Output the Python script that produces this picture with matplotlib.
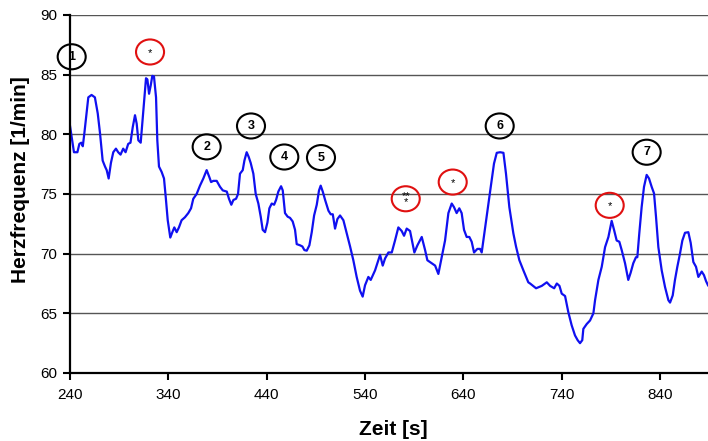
import matplotlib
matplotlib.use("Agg")
import matplotlib.pyplot as plt
from matplotlib.patches import Ellipse

plt.rcParams['font.family'] = ['Liberation Sans', 'DejaVu Sans']

# Heart rate over time
time_s = [240, 244, 247.5, 249.5, 251.5, 253, 254.6, 258.6, 261.9, 265.3,
          268.2, 270.5, 273.2, 275.6, 277.3, 279.3, 281.6, 284.0, 286.7, 289.0,
          291.4, 294.1, 296.5, 299.2, 301.5, 303.8, 306.1, 307.8, 309.5, 311.9,
          314.6, 317.3, 318.7, 320.4, 322.1, 323.7, 325.4, 327.5, 328.8, 330.5,
          333.2, 335.6, 337.3, 339.4, 342.0, 344.1, 346.1, 348.5, 350.8, 353.5,
          356.9, 360.3, 363.1, 365.4, 368.8, 372.2, 375.6, 379.0, 381.8, 383.5,
          385.8, 389.2, 392.6, 395.4, 399.5, 401.7, 404.1, 406.2, 408.9, 410.9,
          412.9, 415.7, 417.4, 419.7, 421.8, 423.8, 426.5, 428.9, 431.6, 434.0,
          436.0, 438.4, 440.8, 442.8, 445.2, 447.6, 449.6, 451.9, 454.7, 456.4,
          458.7, 461.4, 463.8, 466.5, 468.9, 470.6, 474.0, 476.4, 478.4, 480.8,
          483.5, 485.9, 488.3, 491.0, 493.3, 495.0, 497.1, 499.5, 502.9, 505.2,
          507.3, 509.6, 512.0, 514.7, 518.1, 521.5, 524.9, 528.2, 531.6, 535.0,
          537.7, 540.1, 543.5, 545.9, 550.3, 555.4, 558.1, 560.5, 563.9, 567.3,
          570.6, 574.0, 577.4, 579.8, 582.5, 585.9, 590.3, 593.4, 597.8, 601.2,
          603.5, 608.0, 611.4, 614.7, 618.1, 621.5, 624.9, 628.3, 630.6, 633.3,
          636.0, 638.4, 640.8, 643.5, 646.2, 648.6, 651.0, 654.4, 657.1, 658.8,
          661.2, 664.6, 668.0, 671.3, 674.1, 677.5, 680.9, 683.5, 686.9, 691.0,
          693.7, 697.1, 701.2, 706.2, 708.0, 714.1, 719.9, 725.0, 728.4, 732.5,
          735.2, 737.9, 740.2, 743.6, 746.9, 750.3, 753.7, 756.4, 758.8, 761.1,
          762.2, 765.6, 769.0, 772.4, 774.1, 777.5, 780.9, 784.3, 787.7, 791.0,
          793.4, 796.1, 798.8, 801.2, 804.6, 807.9, 810.3, 813.0, 815.7, 817.1,
          819.1, 821.5, 823.9, 826.6, 829.0, 831.7, 834.1, 836.1, 838.5, 841.9,
          845.3, 848.7, 850.4, 853.1, 855.4, 857.8, 860.5, 862.9, 865.6, 869.0,
          871.4, 874.1, 876.8, 879.2, 882.6, 884.9, 887.0, 889.0]
heart_rate = [80.7, 78.5, 78.5, 79.2, 79.3, 79.0, 80.1, 83.1, 83.3, 83.1,
              81.75, 80.1, 77.8, 77.3, 77.0, 76.3, 77.6, 78.5, 78.8, 78.5,
              78.3, 78.8, 78.5, 79.2, 79.3, 80.6, 81.6, 80.9, 79.5, 79.3,
              82.0, 84.7, 84.6, 83.4, 84.1, 84.9, 84.85, 83.1, 79.5, 77.3,
              76.85, 76.3, 74.8, 72.8, 71.35, 71.8, 72.2, 71.8, 72.2, 72.8,
              73.05, 73.4, 73.8, 74.6, 75.0, 75.7, 76.3, 77.0, 76.4, 76.0,
              76.1, 76.1, 75.6, 75.3, 75.2, 74.6, 74.1, 74.5, 74.6, 75.0,
              76.7, 77.0, 77.8, 78.5, 78.1, 77.6, 76.7, 75.0, 74.2, 73.1,
              72.0, 71.8, 72.6, 73.8, 74.2, 74.1, 74.5, 75.2, 75.65, 75.3,
              73.4, 73.1, 73.0, 72.7, 72.0, 70.8, 70.7, 70.6, 70.3, 70.25,
              70.7, 71.8, 73.2, 74.1, 75.3, 75.7, 75.2, 74.5, 73.6, 73.3,
              73.3, 72.1, 72.9, 73.2, 72.8, 71.7, 70.6, 69.45, 68.05, 66.9,
              66.4, 67.35, 68.05, 67.8, 68.6, 69.9, 69.0, 69.6, 70.1, 70.1,
              71.1, 72.2, 71.9, 71.5, 72.1, 71.9, 70.1, 70.7, 71.4, 70.3,
              69.45, 69.2, 69.0, 68.3, 69.7, 71.1, 73.4, 74.2, 73.9, 73.4,
              73.8, 73.4, 72.0, 71.4, 71.4, 71.0, 70.1, 70.4, 70.4, 70.1,
              71.55, 73.6, 75.6, 77.55, 78.45, 78.5, 78.45, 76.7, 73.9, 71.7,
              70.6, 69.45, 68.6, 67.6, 67.5, 67.1, 67.3, 67.6, 67.3, 67.1,
              67.5, 67.3, 66.65, 66.45, 65.1, 64.0, 63.15, 62.75, 62.5, 62.75,
              63.7, 64.1, 64.4, 65.0, 66.1, 67.8, 68.9, 70.55, 71.4, 72.75,
              72.0, 71.1, 71.0, 70.3, 69.2, 67.8, 68.4, 69.2, 69.7, 69.7,
              71.7, 73.9, 75.6, 76.6, 76.3, 75.6, 75.05, 73.1, 70.55, 68.6,
              67.2, 66.1, 65.9, 66.5, 67.8, 68.9, 70.0, 71.1, 71.75, 71.8,
              70.9, 69.3, 68.9, 68.05, 68.5, 68.2, 67.7, 67.35]

# Numbered event markers (black circles)
event_labels = ['1', '2', '3', '4', '5', '6', '7']
event_t = [241.7, 379.0, 424.1, 458.0, 495.3, 677.1, 826.6]
event_hr = [86.5, 78.95, 80.7, 78.1, 78.05, 80.7, 78.5]

# Significance markers (red circles)
sig_labels = ['*', '**\n*', '*', '*']
sig_t = [321.4, 581.5, 629.3, 789.0]
sig_hr = [86.9, 74.6, 76.0, 74.05]

x_ticks = [240, 340, 440, 540, 640, 740, 840]
y_ticks = [60, 65, 70, 75, 80, 85, 90]

fig = plt.figure(figsize=(7.08, 4.41), dpi=100)
ax = fig.add_axes([0.0989, 0.1542, 0.9011, 0.8118])

ax.plot(time_s, heart_rate, color='#1010f0', lw=1.6, zorder=3)

ax.set_xlim(240, 889)
ax.set_ylim(60, 90)
ax.set_xticks(x_ticks)
ax.set_yticks(y_ticks)
ax.yaxis.grid(True, color='#555555', lw=1.0)
ax.set_axisbelow(True)

for side in ('top', 'right'):
    ax.spines[side].set_visible(False)
for side in ('left', 'bottom'):
    ax.spines[side].set_linewidth(1.6)
    ax.spines[side].set_zorder(4)

ax.tick_params(axis='both', direction='out', width=1.5, labelsize=11, colors='black')
ax.tick_params(axis='x', length=5, pad=6)
ax.tick_params(axis='y', length=5, pad=4)

ax.set_xlabel('Zeit [s]', fontsize=15, fontweight='bold')
ax.set_ylabel('Herzfrequenz [1/min]', fontsize=15, fontweight='bold')
ax.xaxis.set_label_coords(0.506, -0.159)
ax.xaxis.label.set_va('center')
ax.yaxis.set_label_coords(-0.078, 0.539)
ax.yaxis.label.set_va('center')

ell_w, ell_h = 28.5, 2.1

for lab, t, h in zip(event_labels, event_t, event_hr):
    ax.add_patch(Ellipse((t, h), ell_w, ell_h, fill=False, edgecolor='black',
                         lw=1.5, clip_on=False, zorder=5))
    ax.text(t, h, lab, ha='center', va='center', fontsize=9, fontweight='bold',
            clip_on=False, zorder=6)

for lab, t, h in zip(sig_labels, sig_t, sig_hr):
    ax.add_patch(Ellipse((t, h), ell_w, ell_h, fill=False, edgecolor='#e01010',
                         lw=1.5, clip_on=False, zorder=5))
    if '\n' in lab:
        ax.text(t, h - 0.05, lab, ha='center', va='center', fontsize=8,
                linespacing=0.45, zorder=6)
    else:
        ax.text(t, h - 0.1, lab, ha='center', va='center', fontsize=8, zorder=6)

fig.savefig('out.png', dpi=100)
